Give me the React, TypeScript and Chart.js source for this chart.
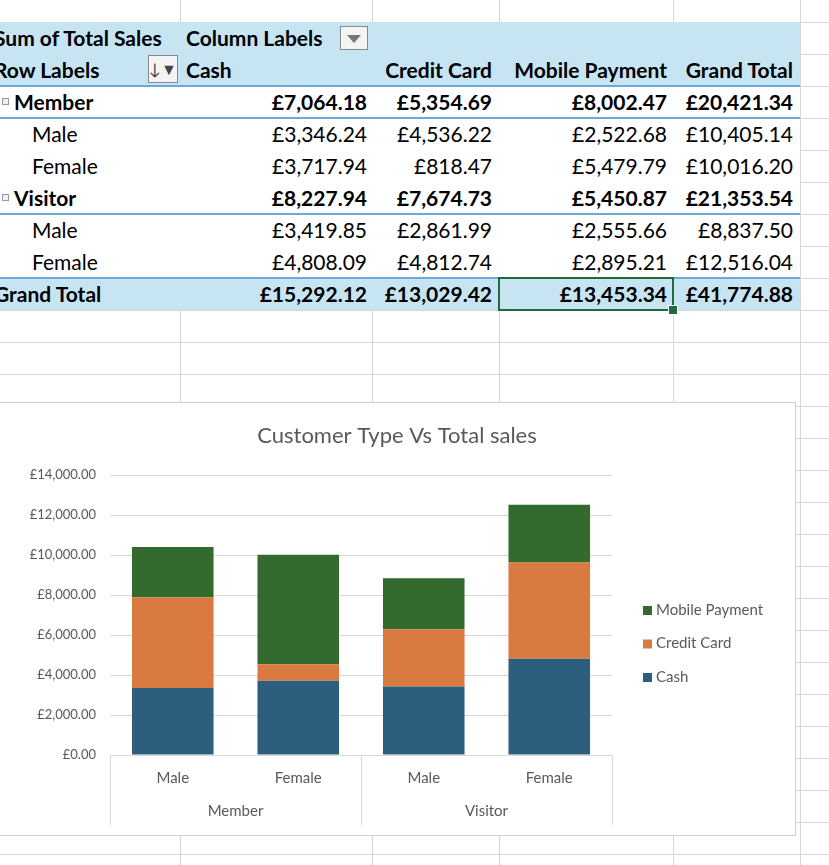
import { useEffect, useRef } from "react";
import { Chart, registerables } from "chart.js";

Chart.register(...registerables);

const subLabels = ["Male", "Female", "Male", "Female"];
const groupLabels = ["Member", "Visitor"];
const cashValues = [3346.24, 3717.94, 3419.85, 4808.09];
const creditValues = [4536.22, 818.47, 2861.99, 4812.74];
const mobileValues = [2522.68, 5479.79, 2555.66, 2895.21];

const tableRows = [
  { label: "Member", bold: true, cells: ["£7,064.18", "£5,354.69", "£8,002.47", "£20,421.34"] },
  { label: "Male", bold: false, cells: ["£3,346.24", "£4,536.22", "£2,522.68", "£10,405.14"] },
  { label: "Female", bold: false, cells: ["£3,717.94", "£818.47", "£5,479.79", "£10,016.20"] },
  { label: "Visitor", bold: true, cells: ["£8,227.94", "£7,674.73", "£5,450.87", "£21,353.54"] },
  { label: "Male", bold: false, cells: ["£3,419.85", "£2,861.99", "£2,555.66", "£8,837.50"] },
  { label: "Female", bold: false, cells: ["£4,808.09", "£4,812.74", "£2,895.21", "£12,516.04"] },
];
const grandTotals = ["£15,292.12", "£13,029.42", "£13,453.34", "£41,774.88"];

const COLORS = { cash: "#2E5E7E", credit: "#D97A40", mobile: "#336A2D" };
const FONT = "Lato, 'Open Sans', sans-serif";
const colRight = [367, 492, 667, 793];
const colLines = [180, 372, 499, 673, 800];
const fill = "#C7E4F3";
const blueLine = "#6AAAD6";

const extras = {
  id: "extras",
  afterDraw(chart: any) {
    const { ctx, chartArea, scales } = chart;
    const x = scales.x;
    ctx.save();
    ctx.fillStyle = "#595959";
    ctx.font = `22px ${FONT}`;
    ctx.textAlign = "center";
    ctx.textBaseline = "middle";
    ctx.fillText("Customer Type Vs Total sales", 397, 33);
    // category separators
    ctx.strokeStyle = "#d9d9d9";
    ctx.lineWidth = 1;
    const step = x.getPixelForValue(1) - x.getPixelForValue(0);
    [0, 2, 4].forEach((i) => {
      const px = Math.round(x.getPixelForValue(0) - step / 2 + i * step) + 0.5;
      ctx.beginPath();
      ctx.moveTo(px, chartArea.bottom);
      ctx.lineTo(px, chartArea.bottom + 70);
      ctx.stroke();
    });
    ctx.font = `15px ${FONT}`;
    groupLabels.forEach((g, i) => {
      const cx = (x.getPixelForValue(i * 2) + x.getPixelForValue(i * 2 + 1)) / 2;
      ctx.fillText(g, cx, chartArea.bottom + 56);
    });
    // legend
    const items = [
      ["Mobile Payment", COLORS.mobile],
      ["Credit Card", COLORS.credit],
      ["Cash", COLORS.cash],
    ];
    ctx.textAlign = "left";
    items.forEach(([t, c], i) => {
      const y = 207 + i * 33.5;
      ctx.fillStyle = c;
      ctx.fillRect(643, y - 4, 9, 9);
      ctx.fillStyle = "#595959";
      ctx.fillText(t, 656, y);
    });
    ctx.restore();
  },
};

function CustomerChart() {
  const canvasRef = useRef<HTMLCanvasElement | null>(null);

  useEffect(() => {
    if (!canvasRef.current) return;
    const chart = new Chart(canvasRef.current, {
      type: "bar",
      data: {
        labels: subLabels,
        datasets: [
          { label: "Cash", data: cashValues, backgroundColor: COLORS.cash },
          { label: "Credit Card", data: creditValues, backgroundColor: COLORS.credit },
          { label: "Mobile Payment", data: mobileValues, backgroundColor: COLORS.mobile },
        ],
      },
      options: {
        responsive: false,
        animation: false,
        layout: { padding: { top: 72, right: 183, bottom: 10, left: 0 } },
        plugins: { legend: { display: false }, tooltip: { enabled: false } },
        datasets: { bar: { barPercentage: 0.65, categoryPercentage: 1 } },
        scales: {
          x: {
            stacked: true,
            grid: { display: false },
            border: { color: "#d9d9d9" },
            ticks: { color: "#595959", font: { family: FONT, size: 15 }, padding: 6 },
            afterFit: (s: any) => { s.height = 70; },
          },
          y: {
            stacked: true,
            min: 0,
            max: 14000,
            grid: { color: "#d9d9d9", drawTicks: false },
            border: { display: false },
            ticks: {
              stepSize: 2000,
              color: "#595959",
              padding: 14,
              font: { family: FONT, size: 13 },
              callback: (v: any) =>
                "£" + Number(v).toLocaleString("en-GB", { minimumFractionDigits: 2, maximumFractionDigits: 2 }),
            },
            afterFit: (s: any) => { s.width = 110; },
          },
        },
      } as any,
      plugins: [extras],
    });
    return () => chart.destroy();
  }, []);

  return <canvas ref={canvasRef} width={795} height={432} />;
}

export default function App() {
  const rowTop = (i: number) => 22 + i * 32;
  const cellText = (bold: boolean): React.CSSProperties => ({
    position: "absolute",
    fontFamily: FONT,
    fontSize: 21,
    fontWeight: bold ? 700 : 400,
    color: "#000",
    lineHeight: "32px",
    whiteSpace: "nowrap",
  });

  const gridLines = [];
  for (let y = -10; y < 865; y += 32) {
    gridLines.push(
      <div key={"h" + y} style={{ position: "absolute", left: 0, top: y, width: 829, height: 1, background: "#d6d6d6" }} />
    );
  }
  colLines.forEach((x) =>
    gridLines.push(
      <div key={"v" + x} style={{ position: "absolute", left: x, top: 0, width: 1, height: 865, background: "#d6d6d6" }} />
    )
  );

  return (
    <div style={{ position: "fixed", left: 0, top: 0, width: 829, height: 865, overflow: "hidden", background: "#fff" }}>
      {gridLines}
      {/* pivot table */}
      <div style={{ position: "absolute", left: 0, top: 22, width: 800, height: 288, background: "#fff" }} />
      <div style={{ position: "absolute", left: 0, top: 22, width: 800, height: 64, background: fill }} />
      <div style={{ position: "absolute", left: 0, top: 278, width: 800, height: 32, background: fill }} />
      {[85, 117, 213, 277].map((y) => (
        <div key={y} style={{ position: "absolute", left: 0, top: y, width: 800, height: 2, background: blueLine }} />
      ))}
      <div style={{ ...cellText(true), left: -6, top: 22 }}>Sum of Total Sales</div>
      <div style={{ ...cellText(true), left: 186, top: 22 }}>Column Labels</div>
      <div style={{ position: "absolute", left: 340, top: 26, width: 28, height: 24, border: "1px solid #888", background: "#f4f4f4", boxSizing: "border-box" }}>
        <div style={{ margin: "8px auto 0", width: 0, height: 0, borderLeft: "7px solid transparent", borderRight: "7px solid transparent", borderTop: "8px solid #777" }} />
      </div>
      <div style={{ ...cellText(true), left: -6, top: 54 }}>Row Labels</div>
      <div style={{ position: "absolute", left: 148, top: 55, width: 30, height: 28, border: "1px solid #888", background: "#f4f4f4", boxSizing: "border-box", fontSize: 16, textAlign: "center", lineHeight: "26px", fontFamily: FONT, color: "#444" }}>↓▼</div>
      <div style={{ ...cellText(true), left: 186, top: 54 }}>Cash</div>
      {["Credit Card", "Mobile Payment", "Grand Total"].map((h, i) => (
        <div key={h} style={{ ...cellText(true), right: 829 - colRight[i + 1], top: 54 }}>{h}</div>
      ))}
      {tableRows.map((r, ri) => (
        <div key={ri}>
          {r.bold && (
            <div style={{ position: "absolute", left: 2, top: rowTop(ri + 2) + 12, width: 7, height: 7, border: "1px solid #999", boxSizing: "border-box", background: "#eef" }} />
          )}
          <div style={{ ...cellText(r.bold), left: r.bold ? 14 : 32, top: rowTop(ri + 2) }}>{r.label}</div>
          {r.cells.map((c, ci) => (
            <div key={ci} style={{ ...cellText(r.bold), right: 829 - colRight[ci], top: rowTop(ri + 2) }}>{c}</div>
          ))}
        </div>
      ))}
      <div style={{ ...cellText(true), left: -6, top: 278 }}>Grand Total</div>
      {grandTotals.map((c, ci) => (
        <div key={ci} style={{ ...cellText(true), right: 829 - colRight[ci], top: 278 }}>{c}</div>
      ))}
      <div style={{ position: "absolute", left: 498, top: 277, width: 176, height: 34, border: "2px solid #1F6B3B", boxSizing: "border-box" }} />
      <div style={{ position: "absolute", left: 668, top: 305, width: 8, height: 8, background: "#1F6B3B", border: "1px solid #fff" }} />
      {/* chart */}
      <div style={{ position: "absolute", left: 0, top: 403, width: 795, height: 432, background: "#fff", outline: "1px solid #cfcfcf" }}>
        <CustomerChart />
      </div>
    </div>
  );
}
